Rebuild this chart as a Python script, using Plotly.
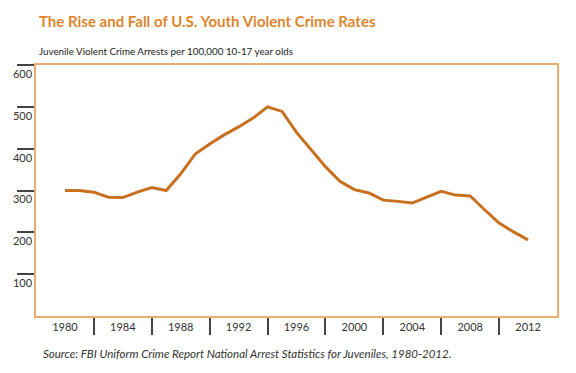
import plotly.graph_objects as go

years = list(range(1980, 2013))
rates = [300, 300, 296, 284, 283, 296, 307, 300, 340, 387, 411, 433, 452, 473, 500,
         489, 439, 397, 357, 322, 302, 294, 277, 274, 270, 284, 298, 289, 287, 254,
         222, 201, 182]

x_labels = list(range(1980, 2013, 4))
x_ticks = list(range(1982, 2012, 4))
y_labels = [100, 200, 300, 400, 500, 600]

title = "The Rise and Fall of U.S. Youth Violent Crime Rates"
subtitle = "Juvenile Violent Crime Arrests per 100,000 10-17 year olds"
source = "Source: FBI Uniform Crime Report National Arrest Statistics for Juveniles, 1980-2012."

LINE = "#c8701f"
FRAME = "#eeab70"
TITLE = "#dc862f"
TXT = "#333333"
FONT = "Lato"

fig = go.Figure(go.Scatter(x=years, y=rates, mode="lines",
                           line=dict(color=LINE, width=3), hoverinfo="skip"))

# page body has an 8px default margin, so the figure is laid out 8px up/left
fig.update_layout(
    width=560, height=357,
    margin=dict(l=28, r=11, t=57, b=49),
    paper_bgcolor="white", plot_bgcolor="white",
    showlegend=False,
    font=dict(family=FONT, color=TXT, size=11),
    xaxis=dict(range=[1978, 2014], tickvals=x_labels, ticktext=[str(v) for v in x_labels],
               ticks="", showgrid=False, zeroline=False, automargin=False,
               showline=True, linecolor=FRAME, linewidth=1.5, mirror=True,
               tickfont=dict(size=11, color=TXT, family=FONT),
               minor=dict(tickmode="array", tickvals=x_ticks, ticks="outside",
                          ticklen=17, tickwidth=1.5, tickcolor="#444444", showgrid=False)),
    yaxis=dict(range=[0, 600], tickvals=y_labels, ticktext=[str(v) for v in y_labels],
               ticks="outside", ticklen=17, tickwidth=1.5, tickcolor="#444444",
               showgrid=False, zeroline=False, automargin=False,
               showline=True, linecolor=FRAME, linewidth=1.5, mirror=True,
               ticklabelshift=9, ticklabelstandoff=-17,
               tickfont=dict(size=11, color=TXT, family=FONT)),
    annotations=[
        dict(text="<b>" + title + "</b>", xref="paper", yref="paper", x=0, y=1,
             xanchor="left", yanchor="middle", xshift=1, yshift=44, showarrow=False,
             font=dict(size=15, color=TITLE, family=FONT)),
        dict(text=subtitle, xref="paper", yref="paper", x=0, y=1,
             xanchor="left", yanchor="middle", xshift=1, yshift=14, showarrow=False,
             font=dict(size=9.8, color="#222222", family=FONT)),
        dict(text="<i>" + source + "</i>", xref="paper", yref="paper", x=0, y=0,
             xanchor="left", yanchor="middle", xshift=5, yshift=-37, showarrow=False,
             font=dict(size=11.5, color="#333333", family=FONT)),
    ],
)

fig.write_html("out.html")
